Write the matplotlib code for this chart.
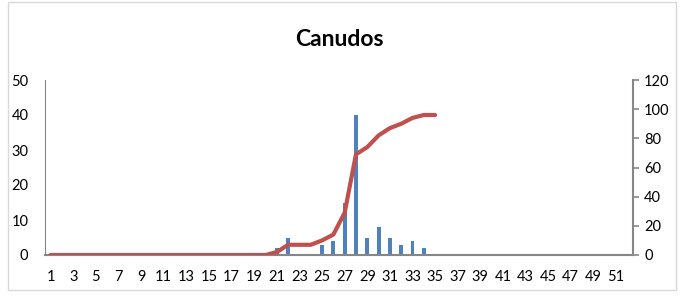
import matplotlib
matplotlib.use("Agg")
import matplotlib.pyplot as plt
from matplotlib.patches import Rectangle

# data
categories = list(range(1, 53))
bar_x = [21, 22, 25, 26, 27, 28, 29, 30, 31, 32, 33, 34]
bar_values = [2, 5, 3, 4, 15, 40, 5, 8, 5, 3, 4, 2]
line_x = list(range(1, 36))
line_values = [0] * 20 + [2, 7, 7, 7, 10, 14, 29, 69, 74, 82, 87, 90, 94, 96, 96]
x_tick_labels = [str(c) for c in categories[::2]]

plt.rcParams["font.family"] = ["Lato", "DejaVu Sans"]

fig = plt.figure(figsize=(6.83, 2.98), dpi=100)
fig.patches.append(Rectangle((8 / 683, 8 / 298), 668 / 683, 288 / 298,
                             transform=fig.transFigure, fill=False,
                             edgecolor="#d9d9d9", linewidth=1))

ax = fig.add_axes([45 / 683, 1 - 255 / 298, 588 / 683, 175 / 298])
ax.bar(bar_x, bar_values, width=0.35, color="#4f81bd")
ax.set_xlim(0.5, 52.5)
ax.set_ylim(0, 50)
ax.set_yticks(range(0, 51, 10))
ax.set_xticks(categories[::2])
ax.set_xticklabels(x_tick_labels)

ax2 = ax.twinx()
ax2.plot(line_x, line_values, color="#c0504d", linewidth=3, solid_capstyle="round")
ax2.set_ylim(0, 120)
ax2.set_yticks(range(0, 121, 20))

for a in (ax, ax2):
    for s in a.spines.values():
        s.set_visible(False)
ax.spines["left"].set_visible(True)
ax.spines["left"].set_color("#868686")
ax.spines["bottom"].set_visible(True)
ax.spines["bottom"].set_color("#868686")
ax.spines["bottom"].set_linewidth(1.5)
ax2.spines["right"].set_visible(True)
ax2.spines["right"].set_color("#868686")
ax2.spines["right"].set_linewidth(1.5)

ax.tick_params(axis="y", length=0, pad=12, labelsize=10.5)
ax.tick_params(axis="x", length=0, pad=11, labelsize=10.5)
ax2.tick_params(axis="y", length=4, width=1.2, color="#868686", pad=4, labelsize=10.5)

fig.text(0.497, 1 - 39 / 298, "Canudos", ha="center", va="center",
         fontsize=16.5, fontweight="bold")

fig.savefig("out.png", dpi=100)
